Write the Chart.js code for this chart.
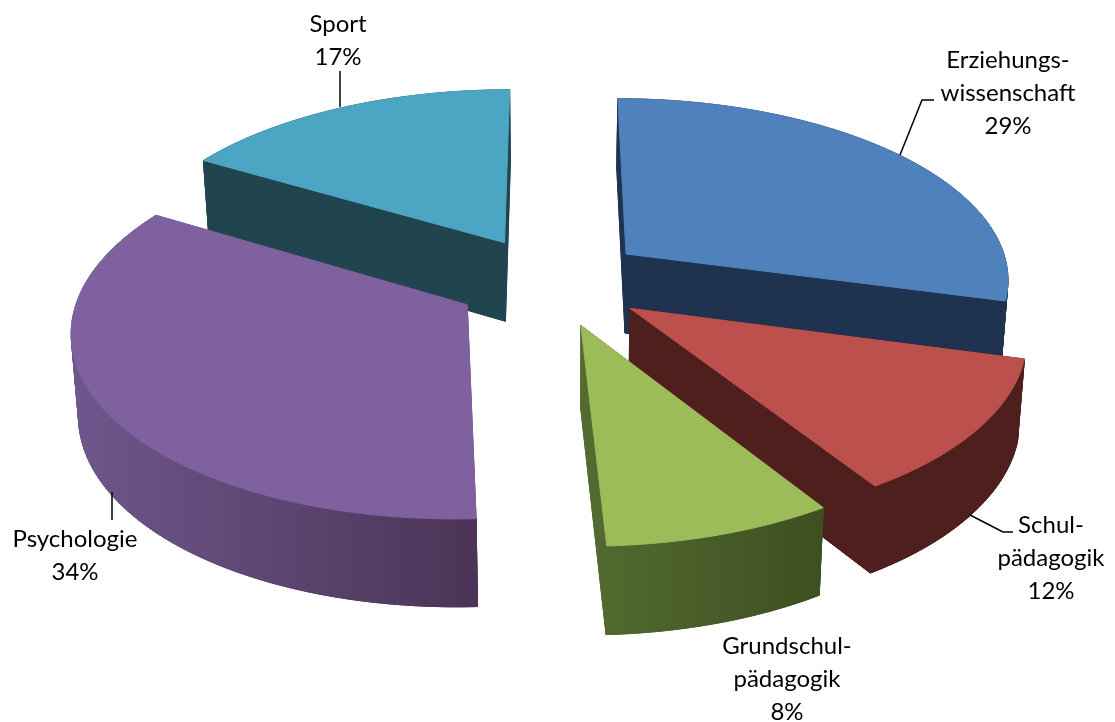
<!DOCTYPE html>
<html>
<head>
<meta charset="utf-8">
<style>
  html, body { margin: 0; background: #fff; }
  #wrap { width: 1115px; height: 722px; }
</style>
<script src="https://cdn.jsdelivr.net/npm/chart.js@4/dist/chart.umd.min.js"></script>
</head>
<body>
<div id="wrap"><canvas id="chart" width="1115" height="722"></canvas></div>
<script>
// Data
const categories = ['Erziehungswissenschaft', 'Schulpädagogik', 'Grundschulpädagogik', 'Psychologie', 'Sport'];
const shares = [29.2, 11.8, 8.25, 34.25, 16.5];
const labelLines = [['Erziehungs-', 'wissenschaft'], ['Schul-', 'pädagogik'], ['Grundschul-', 'pädagogik'], ['Psychologie'], ['Sport']];

// Styles
const topColors = ['#4f81bd', '#bc504d', '#9cbb59', '#8061a0', '#4aa6c3'];
const wallColors = [['#1f3350', '#1f3350'], ['#4f1f1e', '#4f1f1e'], ['#536c30', '#3e4f21'], ['#6d578c', '#4b3456'], ['#20454f', '#20454f']];
const labelSpots = [[1008, 60], [1051, 525], [787, 646], [75, 539], [338, 24]];
const leaderLines = [
  [[900, 155], [922, 100], [934, 100]],
  [[970, 515], [1003, 532], [1013, 532]],
  [],
  [[112, 492], [112, 520]],
  [[340, 107], [340, 71]]
];
const LINE_HEIGHT = 33;
const EXPLODE = 0.25;

// Pie plane -> screen, the view of the 3D pie
const view = { cx: 551, cy: 281, ax: 385, ay: 181, persp: 0.125, depth: 80, depthSlope: 7, vanishX: 560, lean: 0.015 };

function project(u, v, lowered) {
  const w = 1 - view.persp * v;
  let x = view.cx + view.ax * u / w;
  let y = view.cy + view.ay * v / w;
  if (lowered) {
    x += (view.vanishX - x) * view.lean;
    y += view.depth + view.depthSlope * v;
  }
  return [x, y];
}

// Stands in for the canvas context so ArcElement.draw() hands over its outline
function outlineOf(arc) {
  const pts = [];
  let tx = 0, ty = 0;
  const rec = {
    save() {}, restore() {}, beginPath() {}, closePath() {}, fill() {}, stroke() {}, clip() {}, setLineDash() {},
    translate(x, y) { tx += x; ty += y; },
    moveTo(x, y) { pts.push([x + tx, y + ty]); },
    lineTo(x, y) { pts.push([x + tx, y + ty]); },
    arc(x, y, r, a0, a1, ccw) {
      const steps = Math.max(2, Math.ceil(Math.abs(a1 - a0) / 0.02));
      for (let i = 0; i <= steps; i++) {
        const a = a0 + (a1 - a0) * i / steps;
        pts.push([x + tx + r * Math.cos(a), y + ty + r * Math.sin(a)]);
      }
    }
  };
  arc.draw(rec);
  const mid = (arc.startAngle + arc.endAngle) / 2;
  return pts.map(([x, y]) => [
    (x - arc.x) / arc.outerRadius + EXPLODE * Math.cos(mid),
    (y - arc.y) / arc.outerRadius + EXPLODE * Math.sin(mid)
  ]);
}

function tracePath(ctx, pts) {
  ctx.beginPath();
  pts.forEach(([x, y], i) => i ? ctx.lineTo(x, y) : ctx.moveTo(x, y));
  ctx.closePath();
}

const pie3d = {
  id: 'pie3d',
  beforeDatasetsDraw(chart) {
    const ctx = chart.ctx;
    const arcs = chart.getDatasetMeta(0).data;
    const order = arcs.map((a, i) => i).sort((p, q) =>
      Math.sin((arcs[p].startAngle + arcs[p].endAngle) / 2) - Math.sin((arcs[q].startAngle + arcs[q].endAngle) / 2));

    ctx.save();
    ctx.lineJoin = 'round';
    order.forEach(i => {
      const plane = outlineOf(arcs[i]);
      const top = plane.map(([u, v]) => project(u, v, false));
      const low = plane.map(([u, v]) => project(u, v, true));

      const xs = low.map(p => p[0]);
      const paint = ctx.createLinearGradient(Math.min(...xs), 0, Math.max(...xs), 0);
      paint.addColorStop(0, wallColors[i][0]);
      paint.addColorStop(1, wallColors[i][1]);
      ctx.fillStyle = paint;
      ctx.strokeStyle = paint;
      ctx.lineWidth = 1;

      tracePath(ctx, low);
      ctx.fill();
      ctx.stroke();
      for (let k = 0; k < plane.length; k++) {
        const n = (k + 1) % plane.length;
        tracePath(ctx, [top[k], top[n], low[n], low[k]]);
        ctx.fill();
        ctx.stroke();
      }

      tracePath(ctx, top);
      ctx.fillStyle = topColors[i];
      ctx.strokeStyle = topColors[i];
      ctx.fill();
      ctx.stroke();
    });
    ctx.restore();
    return false;
  },
  // beforeDatasetsDraw returning false skips afterDatasetsDraw, so labels go here
  afterDraw(chart) {
    const ctx = chart.ctx;
    ctx.save();
    ctx.strokeStyle = '#000';
    ctx.lineWidth = 1.5;
    leaderLines.forEach(line => {
      if (!line.length) return;
      ctx.beginPath();
      line.forEach(([x, y], i) => i ? ctx.lineTo(x, y) : ctx.moveTo(x, y));
      ctx.stroke();
    });
    ctx.fillStyle = '#000';
    ctx.font = '24px Lato, "Open Sans", sans-serif';
    ctx.textAlign = 'center';
    ctx.textBaseline = 'middle';
    labelLines.forEach((lines, i) => {
      const [x, y] = labelSpots[i];
      [...lines, Math.round(shares[i]) + '%'].forEach((txt, k) => ctx.fillText(txt, x, y + k * LINE_HEIGHT));
    });
    ctx.restore();
  }
};

new Chart(document.getElementById('chart'), {
  type: 'pie',
  data: {
    labels: categories,
    datasets: [{ data: shares, backgroundColor: topColors, borderWidth: 0 }]
  },
  options: {
    responsive: false,
    animation: false,
    plugins: { legend: { display: false }, tooltip: { enabled: false } }
  },
  plugins: [pie3d]
});
</script>
</body>
</html>
